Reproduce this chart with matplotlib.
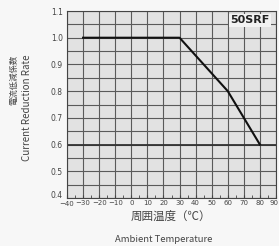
import matplotlib
matplotlib.use("Agg")
import matplotlib.pyplot as plt
import matplotlib.transforms as mtransforms
import numpy as np

temps = [-30, 30, 60, 80]
rates = [1.0, 1.0, 0.8, 0.6]
xticks = [-40, -30, -20, -10, 0, 10, 20, 30, 40, 50, 60, 70, 80, 90]
xticklabels = ["−40", "−30", "−20", "−10", "0", "10", "20", "30", "40", "50", "60", "70", "80", "90"]
yticks = [0.4, 0.5, 0.6, 0.7, 0.8, 0.9, 1.0, 1.1]
yticklabels = ["0.4", "0.5", "0.6", "0.7", "0.8", "0.9", "1.0", "1.1"]

plt.rcParams['font.family'] = ['Noto Sans CJK JP', 'DejaVu Sans']

fig = plt.figure(figsize=(2.79, 2.46), dpi=100)
fig.patch.set_facecolor('#f7f7f7')
ax = fig.add_axes([67/279, 1 - 198/246, (276-67)/279, (198-11)/246])
ax.set_facecolor('#e2e2e2')
ax.set_xlim(-40, 90)
ax.set_ylim(0.4, 1.1)

# grid
for x in xticks:
    ax.axvline(x, color='#5a5a5a', lw=0.8, zorder=1)
for y in np.arange(0.4, 1.1001, 0.05):
    ax.axhline(y, color='#5a5a5a', lw=0.8, zorder=1)
ax.axhline(0.6, color='#333333', lw=1.3, zorder=1)

ax.plot(temps, rates, color='#111111', lw=1.5, zorder=3)

ax.set_xticks(xticks)
ax.set_xticklabels(xticklabels, fontsize=5, color='#444444', family='DejaVu Sans')
ax.set_yticks(yticks)
ax.set_yticklabels(yticklabels, fontsize=5.5, color='#444444', family='DejaVu Sans')
ax.set_xticks(np.arange(-35, 90, 10), minor=True)
ax.tick_params(axis='x', which='both', direction='in', length=2, pad=1.5, color='#444444')
ax.tick_params(axis='y', which='both', length=0, pad=3)
for s in ax.spines.values():
    s.set_color('#444444')
    s.set_linewidth(0.8)

# nudge the corner labels as in the reference
ylabs = ax.get_yticklabels()
ylabs[0].set_transform(ylabs[0].get_transform() + mtransforms.ScaledTranslation(0, 3/100, fig.dpi_scale_trans))
xlabs = ax.get_xticklabels()
xlabs[-1].set_transform(xlabs[-1].get_transform() + mtransforms.ScaledTranslation(-2/100, 0, fig.dpi_scale_trans))
xlabs[0].set_transform(xlabs[0].get_transform() + mtransforms.ScaledTranslation(0, -1/100, fig.dpi_scale_trans))

ax.text(0.97, 0.95, "50SRF", transform=ax.transAxes, ha='right', va='center',
        fontsize=8, fontweight='bold', color='#222222', family='DejaVu Sans',
        bbox=dict(facecolor='#f2f2f2', edgecolor='none', pad=1), zorder=5)

fig.text(14/279, 1 - 55/246, "電流低減係数", rotation=90, ha='center', va='top',
         fontsize=6, color='#444444')
fig.text(27/279, 1 - 108/246, "Current Reduction Rate", rotation=90, ha='center', va='center',
         fontsize=7, color='#444444')
fig.text(171/279, 1 - 216/246, "周囲温度（℃）", ha='center', va='center',
         fontsize=8.3, color='#444444')
fig.text(164/279, 1 - 240/246, "Ambient Temperature", ha='center', va='center',
         fontsize=6.8, color='#444444')

fig.savefig("out.png", dpi=100, facecolor=fig.get_facecolor())
